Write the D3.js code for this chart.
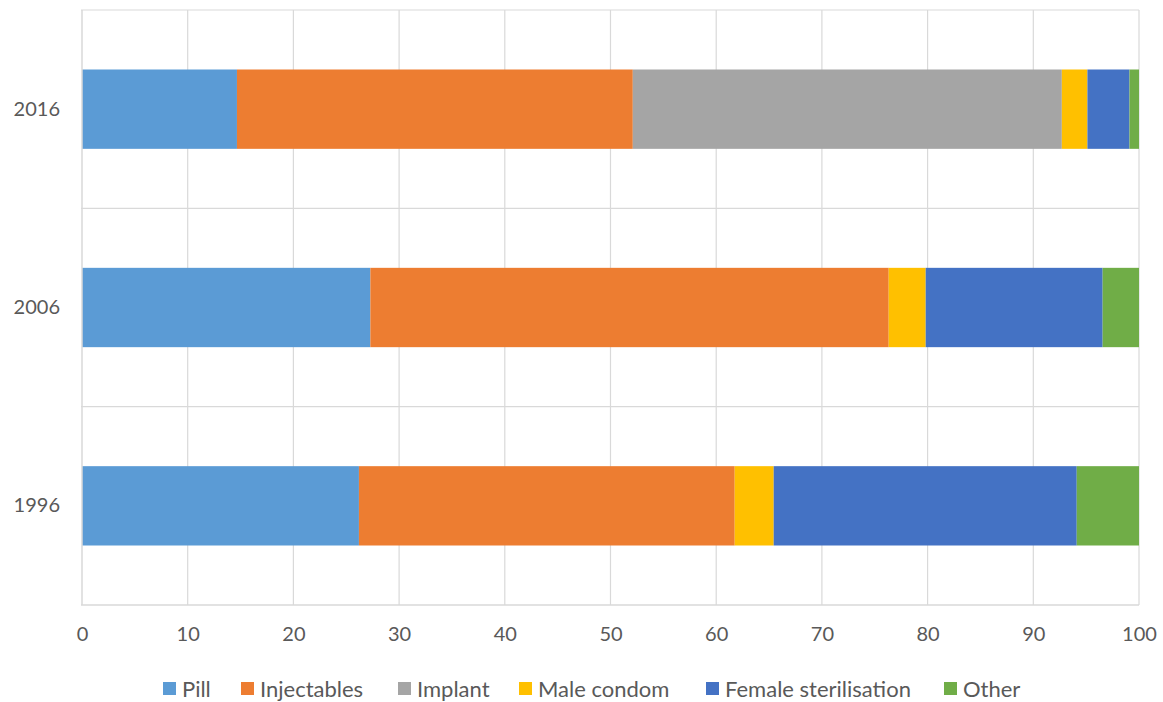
<!DOCTYPE html>
<html>
<head>
<meta charset="utf-8">
<script src="https://cdn.jsdelivr.net/npm/d3@7"></script>
<style>
  html, body { margin: 0; padding: 0; background: #fff; }
  svg { display: block; font-family: Lato, "Open Sans", sans-serif; }
</style>
</head>
<body>
<svg id="chart" width="1163" height="702"></svg>
<script>
// Contraceptive method mix (%) by survey year
const years = ["2016", "2006", "1996"];
const methods = ["Pill", "Injectables", "Implant", "Male condom", "Female sterilisation", "Other"];
const pill        = [14.66, 27.28, 26.2];
const injectables = [37.45, 49.04, 35.55];
const implant     = [40.59, 0, 0];
const maleCondom  = [2.42, 3.5, 3.69];
const femaleSter  = [3.98, 16.74, 28.67];
const other       = [0.9, 3.44, 5.89];
const xTicks = [0, 10, 20, 30, 40, 50, 60, 70, 80, 90, 100];
const colors = ["#5B9BD5", "#ED7D31", "#A5A5A5", "#FFC000", "#4472C4", "#70AD47"];

const seriesValues = [pill, injectables, implant, maleCondom, femaleSter, other];
const rows = years.map((yr, i) => {
  const r = { year: yr };
  methods.forEach((m, j) => { r[m] = seriesValues[j][i]; });
  return r;
});

const W = 1163, H = 702;
const margin = { top: 10, right: 24, bottom: 97, left: 82 };
const svg = d3.select("#chart");

const x = d3.scaleLinear().domain([0, 100]).range([margin.left, W - margin.right]);
const y = d3.scaleBand().domain(years)
  .range([margin.top, H - margin.bottom])
  .paddingInner(0.6).paddingOuter(0.3);

const grid = "#d9d9d9";
const textColor = "#595959";

// vertical gridlines
svg.append("g").selectAll("line").data(xTicks.filter(d => d > 0)).join("line")
  .attr("x1", d => x(d)).attr("x2", d => x(d))
  .attr("y1", margin.top).attr("y2", H - margin.bottom)
  .attr("stroke", grid).attr("stroke-width", 1.2);

// horizontal lines between categories
const step = y.step();
const bounds = d3.range(years.length).map(i => y.range()[0] + i * step);
svg.append("g").selectAll("line").data(bounds).join("line")
  .attr("x1", margin.left - 1).attr("x2", x(100))
  .attr("y1", d => d).attr("y2", d => d)
  .attr("stroke", grid).attr("stroke-width", 1.2);

// stacked bars
const stack = d3.stack().keys(methods)(rows);
svg.append("g").selectAll("g").data(stack).join("g")
  .attr("fill", (d, i) => colors[i])
  .selectAll("rect").data(d => d).join("rect")
  .attr("x", d => x(d[0]))
  .attr("width", d => Math.max(0, x(d[1]) - x(d[0])))
  .attr("y", d => y(d.data.year))
  .attr("height", y.bandwidth());

// axis lines
svg.append("line")
  .attr("x1", margin.left).attr("x2", margin.left)
  .attr("y1", margin.top).attr("y2", H - margin.bottom)
  .attr("stroke", grid).attr("stroke-width", 1.5);
svg.append("line")
  .attr("x1", margin.left - 1).attr("x2", x(100))
  .attr("y1", H - margin.bottom).attr("y2", H - margin.bottom)
  .attr("stroke", grid).attr("stroke-width", 1.5);

// x axis labels
const xAxis = svg.append("g")
  .attr("transform", `translate(0,${H - margin.bottom + 29})`)
  .call(d3.axisBottom(x).tickValues(xTicks).tickSize(0).tickPadding(0));
xAxis.select(".domain").remove();
xAxis.selectAll("text").attr("fill", textColor).attr("font-size", 20)
  .attr("font-family", "Lato, 'Open Sans', sans-serif").attr("dy", "0.35em");

// y axis labels
const yAxis = svg.append("g")
  .attr("transform", `translate(${margin.left - 22},0)`)
  .call(d3.axisLeft(y).tickSize(0).tickPadding(0));
yAxis.select(".domain").remove();
yAxis.selectAll("text").attr("fill", textColor).attr("font-size", 20)
  .attr("font-family", "Lato, 'Open Sans', sans-serif");

// legend
const legendX = [163, 241, 398, 519, 706, 944];
const legend = svg.append("g").attr("transform", "translate(0,689)");
const items = legend.selectAll("g").data(methods).join("g")
  .attr("transform", (d, i) => `translate(${legendX[i]},0)`);
items.append("rect").attr("x", 0).attr("y", -7).attr("width", 13).attr("height", 13)
  .attr("fill", (d, i) => colors[i]);
items.append("text").attr("x", 19).attr("dy", "0.35em")
  .attr("fill", textColor).attr("font-size", 22).text(d => d);
</script>
</body>
</html>
